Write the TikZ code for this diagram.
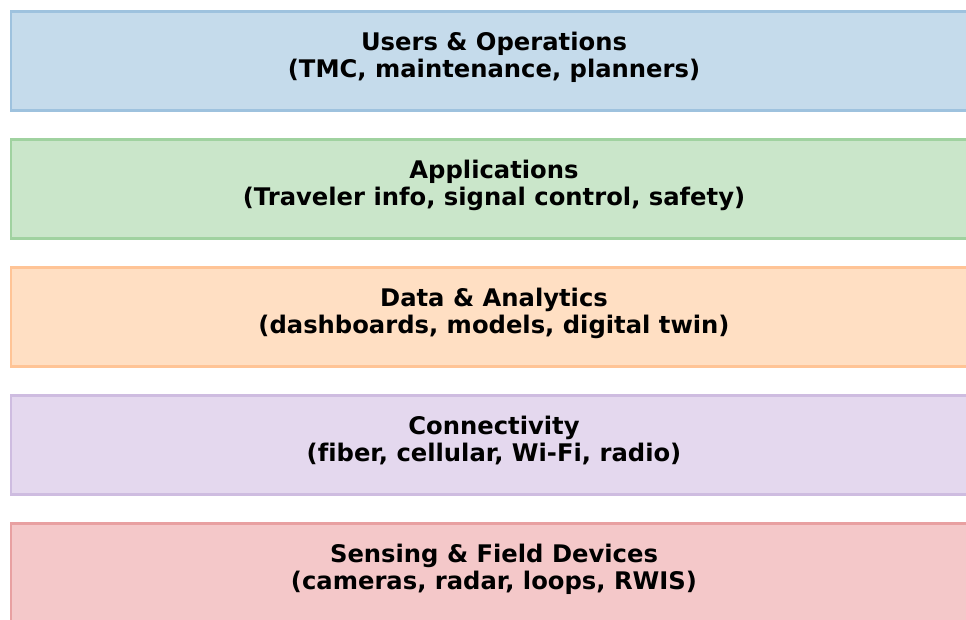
\documentclass[tikz,border=0pt]{standalone}
\usepackage{fontspec}
\setmainfont{DejaVu Sans}[Ligatures=NoCommon]
\definecolor{bluefill}{RGB}{197,219,235}\definecolor{blueline}{RGB}{158,194,222}
\definecolor{greenfill}{RGB}{202,230,202}\definecolor{greenline}{RGB}{160,210,160}
\definecolor{orangefill}{RGB}{255,223,195}\definecolor{orangeline}{RGB}{255,196,150}
\definecolor{purplefill}{RGB}{228,216,238}\definecolor{purpleline}{RGB}{206,188,224}
\definecolor{redfill}{RGB}{244,200,201}\definecolor{redline}{RGB}{232,160,161}
\begin{document}
\begin{tikzpicture}[x=0.02cm,y=-0.02cm,
    layer/.style={draw=#1line,fill=#1fill,line width=1.5pt,rectangle,minimum width=19.32cm,minimum height=1.98cm,inner sep=0pt,text depth=6.7pt,align=center,font=\bfseries\fontsize{13.8}{15.4}\selectfont}]
        \useasboundingbox (0,0) rectangle (966,619);
        \clip (0,0) rectangle (966,619);
        \node [layer=blue] (users) at (494,61) {Users \& Operations\\(TMC, maintenance, planners)};
        \node [layer=green] (apps) at (494,189) {Applications\\(Traveler info, signal control, safety)};
        \node [layer=orange] (data) at (494,317) {Data \& Analytics\\(dashboards, models, digital twin)};
        \node [layer=purple] (conn) at (494,445) {Connectivity\\(fiber, cellular, Wi-Fi, radio)};
        \node [layer=red] (sensing) at (494,573) {Sensing \& Field Devices\\(cameras, radar, loops, RWIS)};
    \end{tikzpicture}
\end{document}
